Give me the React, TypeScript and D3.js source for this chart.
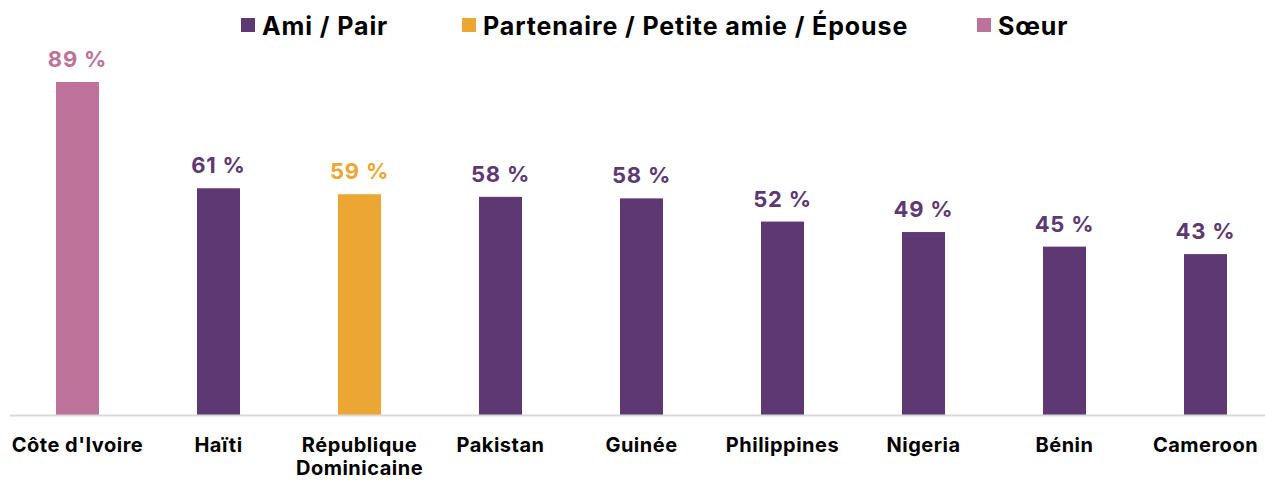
import React from "react";
import * as d3 from "d3";

const categories = [
  "Côte d'Ivoire",
  "Haïti",
  "République Dominicaine",
  "Pakistan",
  "Guinée",
  "Philippines",
  "Nigeria",
  "Bénin",
  "Cameroon",
];
const values = [89, 60.6, 59, 58.3, 57.9, 51.7, 48.9, 45, 43];
const seriesOfBar = ["Sœur", "Ami / Pair", "Partenaire / Petite amie / Épouse", "Ami / Pair", "Ami / Pair", "Ami / Pair", "Ami / Pair", "Ami / Pair", "Ami / Pair"];
const seriesNames = ["Ami / Pair", "Partenaire / Petite amie / Épouse", "Sœur"];
const seriesColors = ["#5e3873", "#eca633", "#bd7299"];
const categoryLines: Record<string, string[]> = {
  "République Dominicaine": ["République", "Dominicaine"],
};

const W = 1265;
const H = 480;
const FONT = "Inter, 'Open Sans', sans-serif";

export default function App() {
  const x = d3
    .scaleBand<string>()
    .domain(categories)
    .range([7, 1276])
    .paddingInner(0.695)
    .paddingOuter(0.3475);
  const y = d3.scaleLinear().domain([0, 89]).range([415, 82]);
  const color = d3.scaleOrdinal<string, string>().domain(seriesNames).range(seriesColors);

  const legendX = [241, 462, 977];

  return (
    <svg
      width={W}
      height={H}
      style={{ position: "absolute", left: 0, top: 0, background: "#fff" }}
      fontFamily={FONT}
    >
      {/* legend */}
      {seriesNames.map((s, i) => (
        <g key={s} transform={`translate(${legendX[i]},0)`}>
          <rect x={0} y={18} width={14} height={14} fill={color(s)} />
          <text x={21} y={35} fontSize={25} fontWeight={700} letterSpacing={0.9} fill="#000">
            {s}
          </text>
        </g>
      ))}

      {/* bars */}
      {categories.map((c, i) => (
        <rect
          key={c}
          x={x(c)}
          y={y(values[i])}
          width={x.bandwidth()}
          height={y(0) - y(values[i])}
          fill={color(seriesOfBar[i])}
        />
      ))}

      {/* axis line */}
      <line x1={10} x2={W} y1={y(0) + 0.5} y2={y(0) + 0.5} stroke="#d9d9d9" strokeWidth={2} />

      {/* value labels */}
      {categories.map((c, i) => (
        <text
          key={c + "v"}
          x={(x(c) as number) + x.bandwidth() / 2}
          y={y(values[i]) - 15}
          textAnchor="middle"
          fontSize={22}
          fontWeight={700}
          letterSpacing={0.8}
          fill={color(seriesOfBar[i])}
        >
          {`${Math.round(values[i])} %`}
        </text>
      ))}

      {/* category labels */}
      {categories.map((c) => {
        const lines = categoryLines[c] || [c];
        const cx = (x(c) as number) + x.bandwidth() / 2;
        return (
          <text
            key={c + "c"}
            x={cx}
            y={452}
            textAnchor="middle"
            fontSize={20}
            fontWeight={700}
            letterSpacing={0.5}
            fill="#000"
          >
            {lines.map((l, k) => (
              <tspan key={l} x={cx} dy={k === 0 ? 0 : 23}>
                {l}
              </tspan>
            ))}
          </text>
        );
      })}
    </svg>
  );
}
